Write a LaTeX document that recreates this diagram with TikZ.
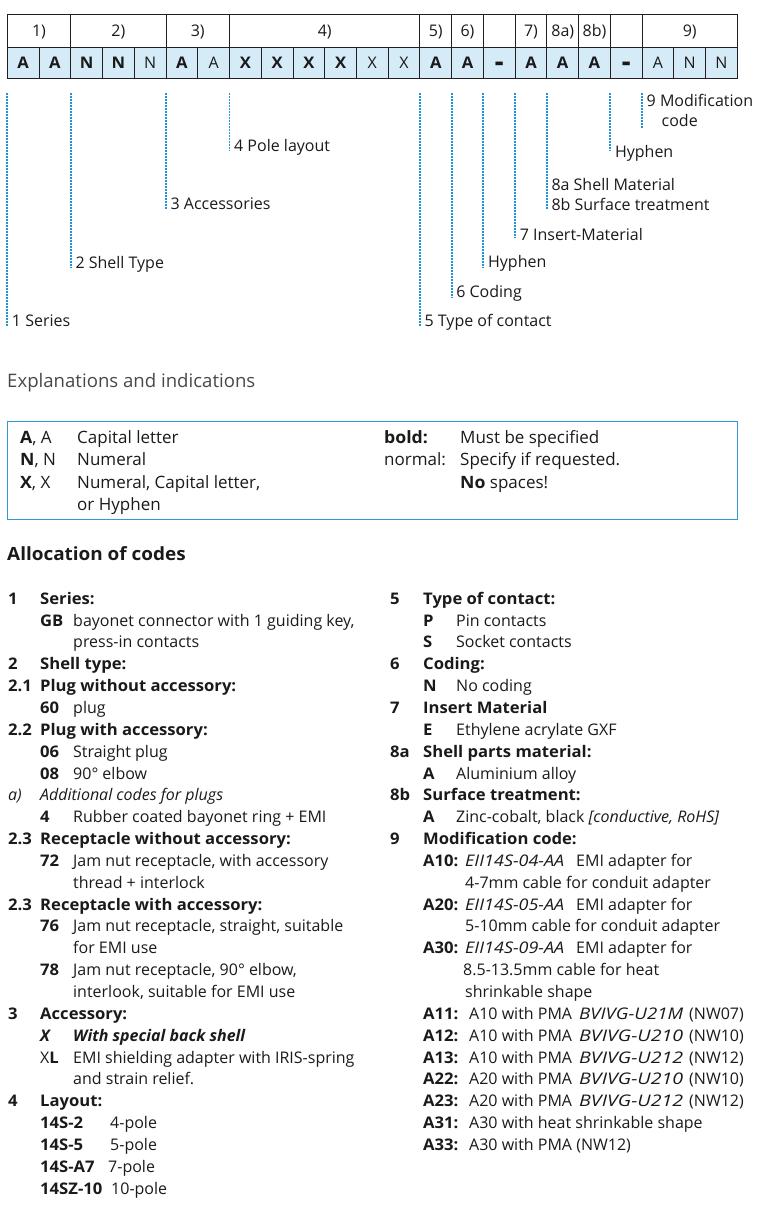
\documentclass[tikz,border=0pt]{standalone}
\usepackage{fontspec}
\usepackage{graphicx}
\setmainfont{Open Sans}[BoldFeatures={FakeStretch=1.04}]
\definecolor{ink}{HTML}{1A1A1A}
\definecolor{cellfill}{HTML}{D6EBF8}
\definecolor{leadblue}{HTML}{1E96D6}
\definecolor{boxblue}{HTML}{2F9AD4}
\definecolor{gridline}{HTML}{231F20}
\newcounter{tn}
\newcommand\LA[3]{\stepcounter{tn}\node[txt] (t\arabic{tn}) at (#1,{604.2+21.85*#2}) {#3};}
\newcommand\TX[3]{\stepcounter{tn}\node[txt] (t\arabic{tn}) at (#1,#2) {#3};}
\newcommand\BX[3]{\stepcounter{tn}\node[txt,font=\fontsize{17}{20}\selectfont] (t\arabic{tn}) at (#1,#2) {#3};}
\newcommand\LEAD[5]{%
  \coordinate (#1a) at (#2,93);
  \coordinate (#1b) at (#2,#3);
  \draw[lead] (#1a) -- (#1b);
  \node[txt] (#1t) at (#2+4.5,#4) {#5};}
\newcommand\hy{\raisebox{-0.27em}{\scalebox{1.05}[2]{\textbf{–}}}}
\newcommand\cdit[2]{\resizebox{#1pt}{\height}{\textit{#2}}}
\newcommand\PMA[5]{\LA{423}{#1}{\textbf{#2}} \LA{469}{#1}{#3} \LA{579}{#1}{\cdit{104}{#4}} \LA{689}{#1}{#5}}
\begin{document}
\begin{tikzpicture}[x=1pt,y=-1pt,
  txt/.style={anchor=base west,inner sep=0pt,font=\fontsize{16}{19}\selectfont,text=ink},
  cell/.style={draw=gridline,line width=0.9pt,minimum height=31pt,inner sep=0pt,text height=11.4pt,text depth=0pt,font=\fontsize{16}{19}\selectfont,text=ink},
  grp/.style={draw=gridline,line width=0.9pt,minimum height=32.6pt,inner sep=0pt,text height=11.4pt,text depth=0pt,font=\fontsize{16}{19}\selectfont,text=ink},
  lead/.style={draw=leadblue,line width=1.9pt,dash pattern=on 1.8pt off 1.2pt},
  head/.style={anchor=base west,inner sep=0pt,text=ink}]
\useasboundingbox (0,0) rectangle (759,1218);
\def\w{31.739}
% bottom row cells
\foreach \i/\t in {1/\textbf{A},2/\textbf{A},3/\textbf{N},4/\textbf{N},5/N,6/\textbf{A},7/A,8/\textbf{X},9/\textbf{X},10/\textbf{X},11/\textbf{X},12/X,13/X,14/\textbf{A},15/\textbf{A},16/\hy,17/\textbf{A},18/\textbf{A},19/\textbf{A},20/\hy,21/A,22/N,23/N}
  \node[cell,fill=cellfill,minimum width=\w pt] (c\i) at ({7.3+(\i-0.5)*\w},62.8) {\t};
% top row groups
\foreach \a/\b/\t in {1/2/1),3/5/2),6/7/3),8/13/4),14/14/5),15/15/6),16/16/{},17/17/7),18/18/8a),19/19/8b),20/20/{},21/23/9)}
  \node[grp,minimum width={(\b-\a+1)*\w pt}] (g\a) at ({7.3+(\a-1+(\b-\a+1)/2)*\w},31) {\t};
% leaders
\LEAD{L1}{7.3}{326.7}{326.7}{1 Series}
\LEAD{L2}{70.8}{268.3}{268.3}{2 Shell Type}
\LEAD{L3}{166}{209.3}{209.3}{3 Accessories}
\LEAD{L4}{229.5}{151}{151.7}{4 Pole layout}
\LEAD{L5}{419.9}{326.7}{326.7}{5 Type of contact}
\LEAD{L6}{451.6}{297.3}{297.3}{6 Coding}
\LEAD{L7}{483.4}{268.3}{267.7}{Hyphen}
\LEAD{L8}{515.1}{238.3}{240}{7 Insert-Material}
\LEAD{L9}{546.8}{209.3}{190}{8a Shell Material}
\TX{551.3}{210.7}{8b Surface treatment}
\LEAD{L10}{610.3}{150.7}{157.3}{Hyphen}
\LEAD{L11}{642}{128.3}{106}{9 Modification}
\TX{661.5}{126.7}{code}
% explanations
\node[head,font=\fontsize{18.6}{22}\selectfont,text=ink!80] (exph) at (7,387) {Explanations and indications};
\node[draw=boxblue,line width=0.8pt,minimum width=730pt,minimum height=98pt,anchor=north west,inner sep=0pt] (expbox) at (7,421) {};
\BX{20}{443}{\textbf{A}, A}
\BX{77}{443}{Capital letter}
\BX{20}{465}{\textbf{N}, N}
\BX{77}{465}{Numeral}
\BX{20}{488}{\textbf{X}, X}
\BX{77}{488}{Numeral, Capital letter,}
\BX{77}{510}{or Hyphen}
\BX{384}{443}{\textbf{bold:}}
\BX{460}{443}{Must be specified}
\BX{384}{465}{normal:}
\BX{460}{465}{Specify if requested.}
\BX{460}{488}{\textbf{No} spaces!}
% allocation
\node[head,font=\fontsize{18.2}{22}\selectfont\bfseries] (alloch) at (7,560) {Allocation of codes};
\LA{8}{0}{\textbf{1}} \LA{40}{0}{\textbf{Series:}}
\LA{40}{1}{\textbf{GB}} \LA{73}{1}{bayonet connector with 1 guiding key,}
\LA{73}{2}{press-in contacts}
\LA{8}{3}{\textbf{2}} \LA{40}{3}{\textbf{Shell type:}}
\LA{8}{4}{\textbf{2.1}} \LA{40}{4}{\textbf{Plug without accessory:}}
\LA{40}{5}{\textbf{60}} \LA{73}{5}{plug}
\LA{8}{6}{\textbf{2.2}} \LA{40}{6}{\textbf{Plug with accessory:}}
\LA{40}{7}{\textbf{06}} \LA{73}{7}{Straight plug}
\LA{40}{8}{\textbf{08}} \LA{73}{8}{90° elbow}
\LA{8}{9}{\textit{a)}} \LA{40}{9}{\textit{Additional codes for plugs}}
\LA{40}{10}{\textbf{4}} \LA{73}{10}{Rubber coated bayonet ring + EMI}
\LA{8}{11}{\textbf{2.3}} \LA{40}{11}{\textbf{Receptacle without accessory:}}
\LA{40}{12}{\textbf{72}} \LA{73}{12}{Jam nut receptacle, with accessory}
\LA{73}{13}{thread + interlock}
\LA{8}{14}{\textbf{2.3}} \LA{40}{14}{\textbf{Receptacle with accessory:}}
\LA{40}{15}{\textbf{76}} \LA{73}{15}{Jam nut receptacle, straight, suitable}
\LA{73}{16}{for EMI use}
\LA{40}{17}{\textbf{78}} \LA{73}{17}{Jam nut receptacle, 90° elbow,}
\LA{73}{18}{interlook, suitable for EMI use}
\LA{8}{19}{\textbf{3}} \LA{40}{19}{\textbf{Accessory:}}
\LA{40}{20}{\textbf{\textit{X}}} \LA{73}{20}{\textbf{\textit{With special back shell}}}
\LA{40}{21}{X\textbf{L}} \LA{73}{21}{EMI shielding adapter with IRIS-spring}
\LA{73}{22}{and strain relief.}
\LA{8}{23}{\textbf{4}} \LA{40}{23}{\textbf{Layout:}}
\LA{40}{24}{\textbf{14S-2}} \LA{110}{24}{4-pole}
\LA{40}{25}{\textbf{14S-5}} \LA{110}{25}{5-pole}
\LA{40}{26}{\textbf{14S-A7}} \LA{108}{26}{7-pole}
\LA{40}{27}{\textbf{14SZ-10}} \LA{111}{27}{10-pole}
% right column
\LA{390}{0}{\textbf{5}} \LA{423}{0}{\textbf{Type of contact:}}
\LA{423}{1}{\textbf{P}} \LA{456}{1}{Pin contacts}
\LA{423}{2}{\textbf{S}} \LA{456}{2}{Socket contacts}
\LA{390}{3}{\textbf{6}} \LA{423}{3}{\textbf{Coding:}}
\LA{423}{4}{\textbf{N}} \LA{456}{4}{No coding}
\LA{390}{5}{\textbf{7}} \LA{423}{5}{\textbf{Insert Material}}
\LA{423}{6}{\textbf{E}} \LA{456}{6}{Ethylene acrylate GXF}
\LA{390}{7}{\textbf{8a}} \LA{423}{7}{\textbf{Shell parts material:}}
\LA{423}{8}{\textbf{A}} \LA{456}{8}{Aluminium alloy}
\LA{390}{9}{\textbf{8b}} \LA{423}{9}{\textbf{Surface treatment:}}
\LA{423}{10}{\textbf{A}} \LA{456}{10}{Zinc-cobalt, black \textit{[conductive, RoHS]}}
\LA{390}{11}{\textbf{9}} \LA{423}{11}{\textbf{Modification code:}}
\LA{423}{12}{\textbf{A10:}} \LA{465}{12}{\cdit{99}{EII14S-04-AA}} \LA{576}{12}{EMI adapter for}
\LA{465}{13}{4-7mm cable for conduit adapter}
\LA{423}{14}{\textbf{A20:}} \LA{465}{14}{\cdit{99}{EII14S-05-AA}} \LA{576}{14}{EMI adapter for}
\LA{465}{15}{5-10mm cable for conduit adapter}
\LA{423}{16}{\textbf{A30:}} \LA{465}{16}{\cdit{99}{EII14S-09-AA}} \LA{576}{16}{EMI adapter for}
\LA{463}{17}{8.5-13.5mm cable for heat}
\LA{465}{18}{shrinkable shape}
\PMA{19}{A11:}{A10 with PMA}{BVIVG-U21M}{(NW07)}
\PMA{20}{A12:}{A10 with PMA}{BVIVG-U210}{(NW10)}
\PMA{21}{A13:}{A10 with PMA}{BVIVG-U212}{(NW12)}
\PMA{22}{A22:}{A20 with PMA}{BVIVG-U210}{(NW10)}
\PMA{23}{A23:}{A20 with PMA}{BVIVG-U212}{(NW12)}
\LA{423}{24}{\textbf{A31:}} \LA{469}{24}{A30 with heat shrinkable shape}
\LA{423}{25}{\textbf{A33:}} \LA{469}{25}{A30 with PMA (NW12)}
\end{tikzpicture}
\end{document}
